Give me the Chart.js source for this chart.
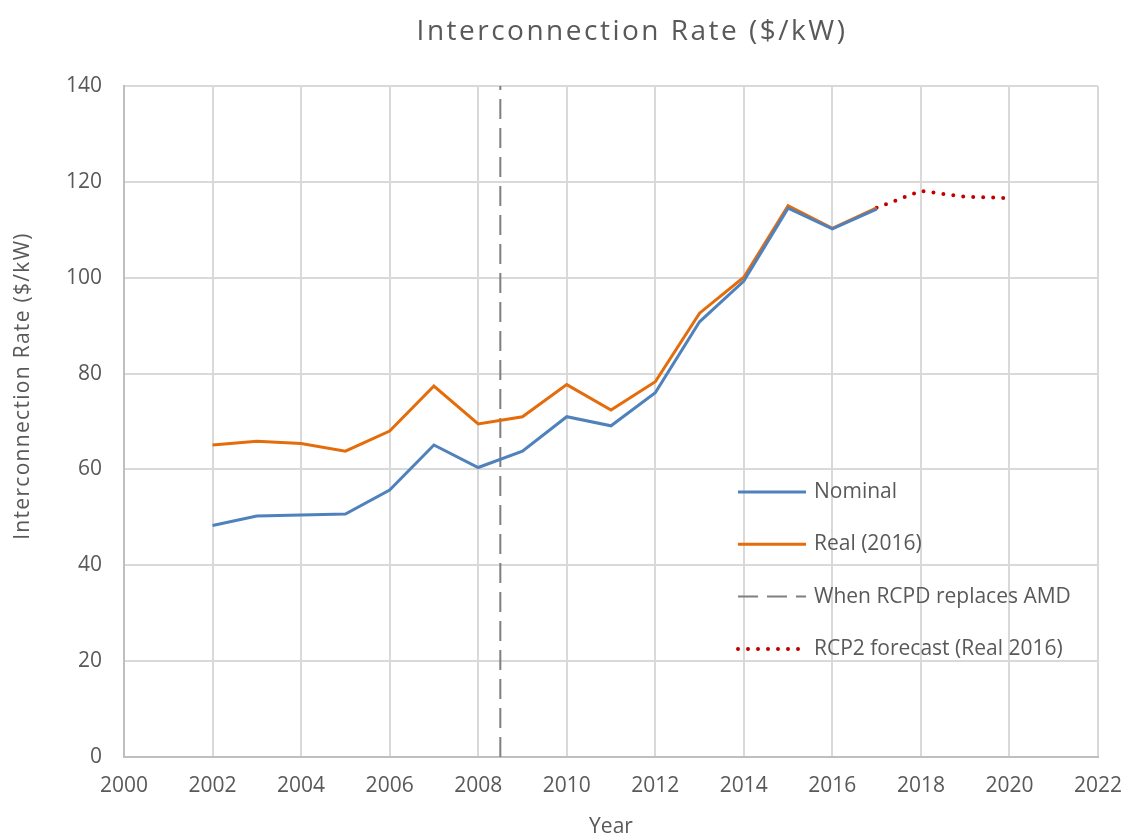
<!DOCTYPE html>
<html>
<head>
<meta charset="utf-8">
<title>Interconnection Rate</title>
<script src="https://cdn.jsdelivr.net/npm/chart.js@4.4.1/dist/chart.umd.min.js"></script>
<style>
    body { margin: 0; background: #ffffff; }
    #wrap { width: 1126px; height: 837px; position: relative; }
</style>
</head>
<body>
<div id="wrap"><canvas id="rateChart"></canvas></div>
<script>

// ==========================
// DATA
// ==========================

let years =
[2002, 2003, 2004, 2005, 2006, 2007, 2008, 2009,
 2010, 2011, 2012, 2013, 2014, 2015, 2016, 2017];

let nominal =
[48.3, 50.3, 50.5, 50.7, 55.7, 65.1, 60.4, 63.8,
 71.0, 69.1, 76.0, 90.8, 99.3, 114.5, 110.2, 114.3];

let real2016 =
[65.1, 65.9, 65.4, 63.8, 68.0, 77.4, 69.5, 71.0,
 77.7, 72.4, 78.3, 92.6, 100.1, 115.0, 110.3, 114.6];

let forecastYears =
[2017, 2018, 2019, 2020];

let forecast =
[114.6, 118.1, 116.9, 116.6];

let rcpdYear = 2008.5;
let rcpdRange = [0, 140];

let seriesLabels = [
    "Nominal",
    "Real (2016)",
    "When RCPD replaces AMD",
    "RCP2 forecast (Real 2016)"
];

// ==========================
// HELPERS
// ==========================

const textColor = "#595959";
const fontFamily = "'Open Sans', 'Noto Sans', sans-serif";

function toPoints(xs, ys) {
    return xs.map((x, i) => ({ x: x, y: ys[i] }));
}

// ==========================
// TITLE + LEGEND PLUGIN
// ==========================

const extras = {
    id: "extras",
    afterDraw(chart) {

        const ctx = chart.ctx;

        ctx.save();

        // chart title
        ctx.fillStyle = textColor;
        ctx.font = "28px " + fontFamily;
        ctx.letterSpacing = "2.5px";
        ctx.textAlign = "center";
        ctx.textBaseline = "middle";
        ctx.fillText("Interconnection Rate ($/kW)", 632, 32);

        // y axis title
        ctx.save();
        ctx.translate(23, 386);
        ctx.rotate(-Math.PI / 2);
        ctx.font = "21px " + fontFamily;
        ctx.letterSpacing = "1.3px";
        ctx.fillText("Interconnection Rate ($/kW)", 0, 0);
        ctx.restore();

        // legend
        ctx.font = "21px " + fontFamily;
        ctx.letterSpacing = "0px";
        ctx.textAlign = "left";

        chart.data.datasets.forEach((ds, i) => {

            let y = 492 + i * 52.3;

            ctx.beginPath();
            ctx.strokeStyle = ds.borderColor;
            ctx.lineWidth = ds.borderWidth;
            ctx.lineCap = ds.borderCapStyle || "butt";
            ctx.setLineDash(ds.borderDash || []);
            ctx.moveTo(738, y);
            ctx.lineTo(806, y);
            ctx.stroke();

            ctx.setLineDash([]);
            ctx.fillStyle = textColor;
            ctx.fillText(ds.label, 814, y);
        });

        ctx.restore();
    }
};

// ==========================
// CHART
// ==========================

const canvas =
document.getElementById(
    "rateChart"
);

new Chart(canvas, {
    type: "line",
    data: {
        datasets: [
            {
                label: seriesLabels[0],
                data: toPoints(years, nominal),
                borderColor: "#4f81bd",
                borderWidth: 3,
                pointRadius: 0,
                tension: 0
            },
            {
                label: seriesLabels[1],
                data: toPoints(years, real2016),
                borderColor: "#e46c0a",
                borderWidth: 3,
                pointRadius: 0,
                tension: 0
            },
            {
                label: seriesLabels[2],
                data: toPoints([rcpdYear, rcpdYear], rcpdRange),
                borderColor: "#7f7f7f",
                borderWidth: 2,
                borderDash: [20, 9],
                pointRadius: 0
            },
            {
                label: seriesLabels[3],
                data: toPoints(forecastYears, forecast),
                borderColor: "#c00000",
                borderWidth: 4,
                borderDash: [0, 10],
                borderCapStyle: "round",
                pointRadius: 0,
                tension: 0
            }
        ]
    },
    options: {
        responsive: true,
        maintainAspectRatio: false,
        animation: false,
        layout: {
            padding: { top: 86, right: 28, left: 0, bottom: 0 }
        },
        plugins: {
            legend: { display: false },
            title: { display: false },
            tooltip: { enabled: false }
        },
        scales: {
            x: {
                type: "linear",
                min: 2000,
                max: 2022,
                afterFit(scale) {
                    scale.height = 80;
                    scale.paddingLeft = 0;
                    scale.paddingRight = 0;
                },
                ticks: {
                    stepSize: 2,
                    padding: 16,
                    color: textColor,
                    font: { family: fontFamily, size: 21 },
                    callback: v => String(v)
                },
                grid: {
                    color: "#d9d9d9",
                    lineWidth: 2,
                    drawTicks: false
                },
                border: { color: "#bfbfbf", width: 2 },
                title: {
                    display: true,
                    text: "Year",
                    color: textColor,
                    font: { family: fontFamily, size: 21 },
                    padding: { top: 0, bottom: -3 }
                }
            },
            y: {
                min: 0,
                max: 140,
                afterFit(scale) { scale.width = 124; },
                ticks: {
                    stepSize: 20,
                    padding: 22,
                    color: textColor,
                    font: { family: fontFamily, size: 21 }
                },
                grid: {
                    color: "#d9d9d9",
                    lineWidth: 2,
                    drawTicks: false
                },
                border: { color: "#bfbfbf", width: 2 }
            }
        }
    },
    plugins: [extras]
});

</script>
</body>
</html>
